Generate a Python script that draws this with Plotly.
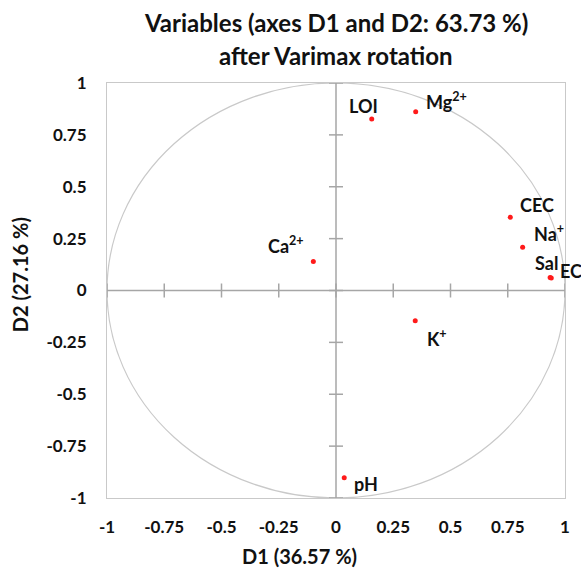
import plotly.graph_objects as go

# Variable loadings on the first two rotated factors
variables = ["LOI", "Mg<sup>2+</sup>", "CEC", "Na<sup>+</sup>", "Sal", "EC",
             "Ca<sup>2+</sup>", "K<sup>+</sup>", "pH"]
d1 = [0.156, 0.348, 0.761, 0.815, 0.935, 0.940, -0.099, 0.346, 0.036]
d2 = [0.827, 0.861, 0.353, 0.209, 0.063, 0.060, 0.140, -0.146, -0.903]

tick_vals = [-1, -0.75, -0.5, -0.25, 0, 0.25, 0.5, 0.75, 1]
tick_text = ["-1", "-0.75", "-0.5", "-0.25", "0", "0.25", "0.5", "0.75", "1"]

# label offsets (pixels) relative to each point
label_dx = [-8, 31, 27, 26, -4, 20, -27, 22, 22]
label_dy = [13, 11, 12, 14, 14, 7, 16, -17, -6]

FONT = "Lato"
TEXT = "#111111"
AXIS_GRAY = "#a6a6a6"
FRAME_GRAY = "#c9c9c9"

fig = go.Figure()
fig.add_trace(go.Scatter(
    x=d1, y=d2, mode="markers",
    marker=dict(color="#ff1a1a", size=5),
    hoverinfo="skip", showlegend=False,
))

shapes = [
    # unit correlation circle
    dict(type="circle", xref="x", yref="y", x0=-1, y0=-1, x1=1, y1=1,
         line=dict(color=FRAME_GRAY, width=1.2), layer="below"),
    # axes through the origin
    dict(type="line", xref="x", yref="y", x0=-1, x1=1, y0=0, y1=0,
         line=dict(color=AXIS_GRAY, width=1.5), layer="below"),
    dict(type="line", xref="x", yref="y", x0=0, x1=0, y0=-1, y1=1,
         line=dict(color=AXIS_GRAY, width=1.5), layer="below"),
]
# crossing tick marks on the origin axes
for v in tick_vals:
    shapes.append(dict(type="line", xref="x", yref="y", ysizemode="pixel",
                       yanchor=0, x0=v, x1=v, y0=-7, y1=7,
                       line=dict(color=AXIS_GRAY, width=1.5), layer="below"))
    shapes.append(dict(type="line", xref="x", yref="y", xsizemode="pixel",
                       xanchor=0, y0=v, y1=v, x0=-7, x1=7,
                       line=dict(color=AXIS_GRAY, width=1.5), layer="below"))

annotations = []
for name, x, y, dx, dy in zip(variables, d1, d2, label_dx, label_dy):
    annotations.append(dict(x=x, y=y, xref="x", yref="y", text=name,
                            showarrow=False, xshift=dx, yshift=dy,
                            xanchor="center", yanchor="middle",
                            font=dict(family=FONT, size=18, color=TEXT,
                                      weight="bold")))

title_font = dict(family=FONT, size=24, color=TEXT, weight="bold")
axis_title_font = dict(family=FONT, size=20, color=TEXT, weight="bold")
annotations += [
    dict(text="Variables (axes D1 and D2: 63.73 %)", xref="paper", yref="paper",
         x=0.5, y=1, yshift=61, xanchor="center", yanchor="middle",
         showarrow=False, font=title_font),
    dict(text="after Varimax rotation", xref="paper", yref="paper",
         x=0.5, y=1, yshift=28, xanchor="center", yanchor="middle",
         showarrow=False, font=title_font),
    dict(text="D1 (36.57 %)", xref="paper", yref="paper",
         x=0.42, y=0, yshift=-58, xanchor="center", yanchor="middle",
         showarrow=False, font=axis_title_font),
    dict(text="D2 (27.16 %)", xref="paper", yref="paper", textangle=-90,
         x=0, xshift=-87, y=0.537, xanchor="center", yanchor="middle",
         showarrow=False, font=axis_title_font),
]

axis_common = dict(
    range=[-1, 1], tickvals=tick_vals, ticktext=tick_text, ticks="",
    showgrid=False, zeroline=False, showline=True, mirror=True,
    linecolor=FRAME_GRAY, linewidth=1.2,
    tickfont=dict(family=FONT, size=17, color=TEXT, weight="bold"),
)

fig.update_layout(
    width=581, height=568,
    margin=dict(l=107, r=16, t=83, b=70),
    paper_bgcolor="white", plot_bgcolor="white",
    xaxis=dict(**axis_common, ticklabelstandoff=13),
    yaxis=dict(**axis_common, ticklabelstandoff=16),
    shapes=shapes, annotations=annotations,
)

fig.write_html("out.html")
